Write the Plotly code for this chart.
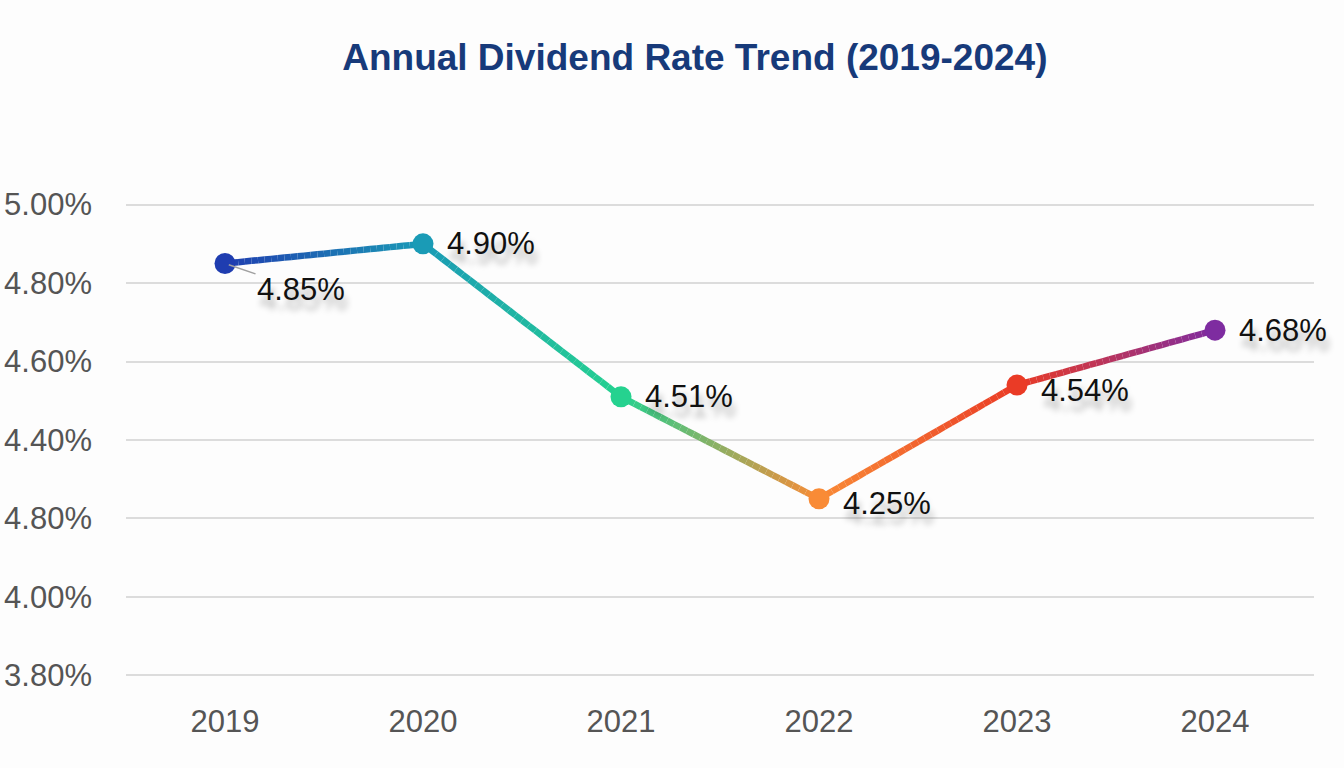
import plotly.graph_objects as go

# ---- data ----
years = [2019, 2020, 2021, 2022, 2023, 2024]
rates = [4.85, 4.90, 4.51, 4.25, 4.54, 4.68]
point_colors = ["#1f3db0", "#1a9bb6", "#25d28f", "#f98b36", "#ea3b26", "#7e2ca0"]
label_texts = ["4.85%", "4.90%", "4.51%", "4.25%", "4.54%", "4.68%"]
y_tick_vals = [3.8, 4.0, 4.2, 4.4, 4.6, 4.8, 5.0]
y_tick_text = ["3.80%", "4.00%", "4.80%", "4.40%", "4.60%", "4.80%", "5.00%"]


def hex_to_rgb(h):
    h = h.lstrip("#")
    return tuple(int(h[i:i + 2], 16) for i in (0, 2, 4))


def mix(c1, c2, t):
    a, b = hex_to_rgb(c1), hex_to_rgb(c2)
    return "rgb(%d,%d,%d)" % tuple(round(a[k] + (b[k] - a[k]) * t) for k in range(3))


fig = go.Figure()

# gradient line: each data segment drawn in short colour steps
STEPS = 30
for i in range(len(years) - 1):
    x0, x1 = years[i], years[i + 1]
    y0, y1 = rates[i], rates[i + 1]
    for s in range(STEPS):
        t0, t1 = s / STEPS, (s + 1) / STEPS
        fig.add_trace(go.Scatter(
            x=[x0 + (x1 - x0) * t0, x0 + (x1 - x0) * t1],
            y=[y0 + (y1 - y0) * t0, y0 + (y1 - y0) * t1],
            mode="lines",
            line=dict(color=mix(point_colors[i], point_colors[i + 1], (t0 + t1) / 2), width=6.5),
            hoverinfo="skip", showlegend=False,
        ))

# markers
fig.add_trace(go.Scatter(
    x=years, y=rates, mode="markers",
    marker=dict(size=21, color=point_colors, line=dict(width=0)),
    showlegend=False,
))

# data labels
shadow = "3px 10px 6px rgba(0,0,0,0.28)"
label_font = dict(family="Liberation Sans, Arial", size=31, color="#111111", shadow=shadow)
for i, (x, y, txt) in enumerate(zip(years, rates, label_texts)):
    if i == 0:
        fig.add_annotation(
            x=x, y=y, text=txt, showarrow=True, ax=76, ay=26,
            arrowhead=0, arrowwidth=1.5, arrowcolor="#a0a0a0", standoff=4,
            font=label_font,
        )
    else:
        yshift = {3: -5, 4: -5}.get(i, 0)
        fig.add_annotation(
            x=x, y=y, text=txt, showarrow=False, xanchor="left", yanchor="middle",
            xshift=22, yshift=yshift, font=label_font,
        )

fig.update_layout(
    width=1344, height=768,
    paper_bgcolor="#fdfdfd", plot_bgcolor="#fdfdfd",
    margin=dict(l=126, r=30, t=185, b=73),
    title=dict(
        text="<b>Annual Dividend Rate Trend (2019-2024)</b>",
        x=0.517, xanchor="center", y=1 - 57 / 768, yanchor="middle", yref="container",
        font=dict(family="Liberation Sans, Arial", size=37, color="#173a7a"),
    ),
    xaxis=dict(
        range=[2018.5, 2024.5], tickvals=years, ticktext=[str(y) for y in years],
        showgrid=False, zeroline=False, showline=False, automargin=False,
        tickfont=dict(family="Liberation Sans, Arial", size=31, color="#555555"),
        ticklabelstandoff=5,
    ),
    yaxis=dict(
        range=[3.75, 5.05], tickvals=y_tick_vals, ticktext=y_tick_text,
        showgrid=True, gridcolor="#dcdcdc", gridwidth=1.5, zeroline=False, showline=False,
        automargin=False,
        tickfont=dict(family="Liberation Sans, Arial", size=31, color="#555555"),
        ticklabelstandoff=33,
    ),
    showlegend=False,
)

fig.write_html("out.html")
